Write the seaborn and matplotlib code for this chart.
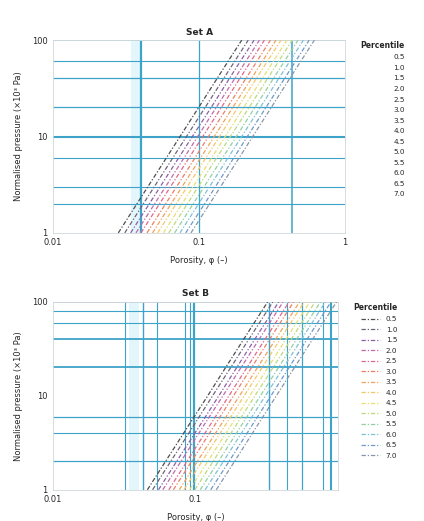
import numpy as np
import pandas as pd
import matplotlib
matplotlib.use("Agg")
import matplotlib.pyplot as plt
import seaborn as sns

# ---- data -------------------------------------------------------------
levels = ["0.5", "1.0", "1.5", "2.0", "2.5", "3.0", "3.5",
          "4.0", "4.5", "5.0", "5.5", "6.0", "6.5", "7.0"]

y_pts = [1, 2, 5, 10, 20, 50, 100]

top_x = [
    [0.028, 0.0375, 0.0553, 0.0741, 0.0993, 0.146, 0.196],
    [0.031, 0.0415, 0.0612, 0.0820, 0.110, 0.162, 0.217],
    [0.034, 0.0456, 0.0671, 0.0900, 0.121, 0.177, 0.238],
    [0.037, 0.0496, 0.0730, 0.0979, 0.131, 0.193, 0.259],
    [0.040, 0.0536, 0.0790, 0.106, 0.142, 0.209, 0.280],
    [0.044, 0.0590, 0.0869, 0.116, 0.156, 0.230, 0.308],
    [0.048, 0.0643, 0.0948, 0.127, 0.170, 0.251, 0.336],
    [0.052, 0.0697, 0.103, 0.138, 0.184, 0.271, 0.364],
    [0.057, 0.0764, 0.113, 0.151, 0.202, 0.298, 0.399],
    [0.062, 0.0831, 0.122, 0.164, 0.220, 0.324, 0.434],
    [0.068, 0.0911, 0.134, 0.180, 0.241, 0.355, 0.476],
    [0.074, 0.0992, 0.146, 0.196, 0.262, 0.386, 0.518],
    [0.081, 0.109, 0.160, 0.214, 0.287, 0.423, 0.567],
    [0.088, 0.118, 0.174, 0.233, 0.312, 0.459, 0.616],
]

bottom_x = [
    [0.046, 0.0616, 0.0908, 0.122, 0.163, 0.240, 0.322],
    [0.050, 0.0670, 0.0987, 0.132, 0.177, 0.261, 0.350],
    [0.055, 0.0737, 0.109, 0.146, 0.195, 0.287, 0.385],
    [0.059, 0.0791, 0.116, 0.156, 0.209, 0.308, 0.413],
    [0.065, 0.0871, 0.128, 0.172, 0.230, 0.339, 0.455],
    [0.070, 0.0938, 0.138, 0.185, 0.248, 0.365, 0.490],
    [0.077, 0.103, 0.152, 0.204, 0.273, 0.402, 0.539],
    [0.083, 0.111, 0.164, 0.220, 0.294, 0.433, 0.581],
    [0.091, 0.122, 0.180, 0.241, 0.323, 0.475, 0.637],
    [0.099, 0.133, 0.195, 0.262, 0.351, 0.517, 0.693],
    [0.108, 0.145, 0.213, 0.286, 0.383, 0.564, 0.756],
    [0.117, 0.157, 0.231, 0.310, 0.415, 0.611, 0.819],
    [0.128, 0.172, 0.253, 0.339, 0.454, 0.668, 0.896],
    [0.140, 0.188, 0.276, 0.370, 0.496, 0.731, 0.980],
]

# reference grid positions (value, weight)
top_vlines = [(0.04, 1.6), (0.1, 0.9), (0.43, 1.1)]
top_hlines = [(2, 0.8), (3, 0.8), (6, 0.8), (10, 1.5), (20, 0.9), (40, 0.9), (60, 0.8)]
bottom_vlines = [(0.032, 0.8), (0.043, 1.0), (0.054, 0.8), (0.085, 0.8), (0.091, 0.8),
                 (0.097, 1.6), (0.33, 1.0), (0.44, 0.8), (0.56, 0.9), (0.78, 0.8), (0.89, 1.5)]
bottom_hlines = [(2, 0.9), (4, 0.8), (6, 0.9), (20, 1.3), (40, 1.3), (60, 0.8), (80, 0.8)]

x_ticks_top = [0.01, 0.1, 1]
x_labels_top = ["0.01", "0.1", "1"]
x_ticks_bottom = [0.01, 0.1]
x_labels_bottom = ["0.01", "0.1"]
y_ticks = [1, 10, 100]
y_labels = ["1", "10", "100"]

# ---- styling ----------------------------------------------------------
sns.set_style("white")
plt.rcParams["font.family"] = ["DejaVu Sans"]

palette = ["#4d4d4d", "#6f6478", "#8a5fa8", "#c06aa8", "#e0688a", "#ea7f66",
           "#f0a25a", "#f4c766", "#e6df74", "#bcd97f", "#92cfa2", "#7fc0d4",
           "#6d98c8", "#8795a8"]
grid_color = "#3ea3c8"


def long_form(xs):
    rows = []
    for lvl, xrow in zip(levels, xs):
        for xv, yv in zip(xrow, y_pts):
            rows.append({"x": xv, "y": yv, "level": lvl})
    return pd.DataFrame(rows)


def draw_panel(ax, xs, vlines, hlines, title, xticks, xlabels, with_handles):
    ax.axvspan(0.034, 0.04, color="#e3f6fb", zorder=0, lw=0)
    for v, w in vlines:
        ax.axvline(v, color=grid_color, lw=w, zorder=1)
    for h, w in hlines:
        ax.axhline(h, color=grid_color, lw=w, zorder=1)
    for edge in (1, 100):
        ax.axhline(edge, color="#9cc7d8", lw=0.6, zorder=1)

    df = long_form(xs)
    sns.lineplot(data=df, x="x", y="y", hue="level", hue_order=levels,
                 palette=palette, sort=False, estimator=None, ax=ax,
                 linestyle=(0, (3.5, 1.5, 1, 1.5)), linewidth=0.9,
                 legend=True, zorder=3)

    ax.set_xscale("log")
    ax.set_yscale("log")
    ax.set_xlim(0.01, 1)
    ax.set_ylim(1, 100)
    ax.set_xticks(xticks)
    ax.set_xticklabels(xlabels)
    ax.set_yticks(y_ticks)
    ax.set_yticklabels(y_labels)
    ax.minorticks_off()
    ax.tick_params(labelsize=6, length=0, pad=4)
    ax.set_title(title, fontsize=6.5, fontweight="bold", pad=4)
    ax.set_xlabel("Porosity, φ (–)", fontsize=6, labelpad=6)
    ax.set_ylabel("Normalised pressure (×10³ Pa)", fontsize=6, labelpad=6)
    for s in ax.spines.values():
        s.set_color("#cfd8dc")
        s.set_linewidth(0.6)

    handles, labels = ax.get_legend_handles_labels()
    ax.legend_.remove()
    if not with_handles:
        for h in handles:
            h.set_alpha(0.0)
    leg = ax.legend(handles, labels, title="Percentile", loc="upper left",
                    bbox_to_anchor=(1.03, 1.03), frameon=False, fontsize=5.2,
                    title_fontsize=5.5, handlelength=2.6, labelspacing=0.62,
                    markerfirst=True, alignment="right")
    leg.get_title().set_fontweight("bold")


fig = plt.figure(figsize=(4.24, 5.21), dpi=100)
ax_top = fig.add_axes([0.125, 0.553, 0.689, 0.370])
ax_bot = fig.add_axes([0.125, 0.060, 0.672, 0.361])

draw_panel(ax_top, top_x, top_vlines, top_hlines, "Set A",
           x_ticks_top, x_labels_top, with_handles=False)
draw_panel(ax_bot, bottom_x, bottom_vlines, bottom_hlines, "Set B",
           x_ticks_bottom, x_labels_bottom, with_handles=True)

fig.savefig("out.png", dpi=100)
